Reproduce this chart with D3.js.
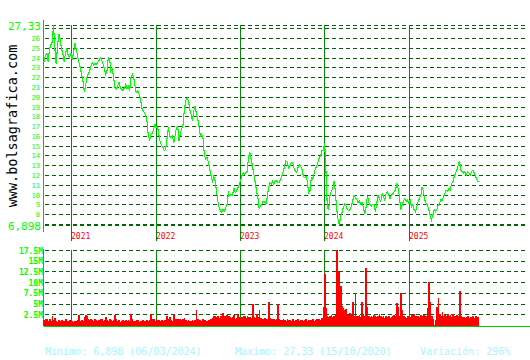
<!DOCTYPE html>
<html>
<head>
<meta charset="utf-8">
<script src="https://cdn.jsdelivr.net/npm/d3@7"></script>
<style>
body { margin: 0; background: #fff; }
svg { display: block; }
text { font-family: "DejaVu Sans Mono", monospace; }
</style>
</head>
<body>
<svg id="main"></svg>
<script>
// cotizacion (cierre), muestreo regular entre priceStart y priceEnd
var price = [
	23.6, 24.3, 24.4, 23.6, 24.9, 25.3, 25.6, 27.3, 25.0, 23.3,
	25.2, 26.4, 25.9, 24.9, 24.4, 23.6, 24.5, 24.9, 24.2, 24.0,
	24.5, 23.8, 24.5, 25.5, 24.9, 24.2, 23.5, 23.0, 22.3, 21.7,
	20.5, 21.1, 22.0, 22.3, 22.6, 23.1, 23.5, 23.2, 23.4, 23.3,
	23.5, 23.7, 24.0, 23.8, 23.4, 22.9, 22.3, 22.6, 24.0, 23.9,
	22.6, 22.8, 22.0, 20.9, 20.8, 21.1, 21.5, 20.9, 20.8, 20.6,
	20.9, 21.3, 20.8, 21.1, 20.6, 22.0, 22.3, 22.0, 21.1, 20.4,
	20.6, 20.3, 19.9, 18.9, 18.6, 18.4, 18.1, 17.5, 16.0, 15.6,
	16.2, 16.3, 16.7, 17.2, 16.9,
	16.85, 16.0, 15.3, 15.0, 14.8, 14.5, 14.6, 15.8, 16.85, 16.0,
	15.8, 16.0, 15.3, 16.0, 16.85, 17.0, 15.5, 16.3, 16.7, 17.2,
	18.7, 19.6, 19.9, 19.6, 18.7, 18.2, 17.5, 18.55, 19.05, 18.2,
	17.7, 16.85, 16.0, 16.2, 15.7, 14.0, 13.6, 13.8, 13.3, 12.6,
	11.9, 11.4, 11.9, 11.4, 10.4, 9.35, 8.7, 8.35, 8.2, 8.5,
	8.35, 8.7, 9.0, 10.2, 9.9, 10.05, 9.9, 10.7, 10.2, 10.4,
	10.7, 11.05, 11.4, 11.9, 12.25, 12.1, 12.25, 12.4, 13.8, 14.3,
	13.6, 12.9, 12.1, 11.2, 10.4, 9.7, 8.5, 8.85, 9.0, 9.35,
	9.3, 9.0, 9.7, 10.7, 11.2, 11.05, 11.4, 11.05, 11.4, 11.4,
	11.2, 11.2, 11.6, 11.9, 12.4, 12.9, 13.45, 13.3, 12.75, 12.9,
	13.3, 13.3, 12.75, 12.4, 12.25, 12.75, 13.1, 12.9, 12.6, 11.9,
	11.75, 11.9, 11.4, 10.2, 10.4, 11.75, 11.6, 12.1, 12.6, 12.9,
	13.3, 13.8, 13.95, 14.5, 14.6, 15.3, 12.4, 8.7, 8.5, 9.9,
	10.4, 10.55, 11.4, 10.4, 8.5, 7.5, 6.9, 7.85, 8.2, 8.7,
	9.0, 8.85, 8.5, 8.35, 8.5, 8.85, 9.35, 9.9, 9.7, 9.55,
	9.2, 9.35, 9.0, 9.2, 8.7, 8.0, 8.7, 9.9, 9.2, 9.0,
	8.85, 9.0,
	8.95, 8.25, 9.1, 9.95, 9.6, 9.3, 10.1, 9.8, 9.45, 10.1,
	10.3, 9.95, 9.6, 9.95, 10.1, 10.3, 10.45, 11.15, 10.65, 9.8,
	8.45, 8.95, 9.3, 9.6, 9.3, 9.45, 9.1, 9.45, 8.75, 8.95,
	8.45, 8.25, 8.75, 9.3, 9.6, 9.95, 10.8, 10.3, 9.45, 9.1,
	8.95, 8.45, 7.9, 7.4, 7.9, 8.45, 8.25, 8.45, 8.95, 9.1,
	9.45, 9.45, 9.8, 10.1, 10.45, 10.3, 10.65, 10.45, 11.15, 11.3,
	11.85, 12.2, 12.5, 13.0, 13.45, 12.5, 12.35, 12.2, 12.35, 12.0,
	12.35, 12.2, 12.0, 12.35, 12.5, 12.2, 11.85, 11.5, 11.3
];
// volumen en millones, mismo muestreo
var volume = [
	1.2, 1.5, 1.4, 1.0, 1.3, 0.9, 2.1, 1.1, 1.6, 1.0,
	0.8, 1.2, 0.9, 1.1, 1.0, 0.9, 1.3, 1.0, 0.9, 1.1,
	0.8, 0.9, 0.7, 1.0, 0.9, 1.1, 2.3, 0.9, 1.1, 1.0,
	1.8, 2.4, 2.2, 1.5, 1.2, 1.4, 1.1, 1.0, 1.5, 1.2,
	1.0, 1.2, 1.3, 1.4, 0.9, 1.1, 1.9, 1.2, 1.0, 1.5,
	1.1, 0.9, 1.2, 2.3, 1.3, 1.0, 1.1, 0.8, 1.0, 1.1,
	1.0, 1.1, 0.9, 1.2, 1.0, 2.6, 1.3, 1.0, 0.9, 1.1,
	1.1, 0.8, 1.0, 0.9, 1.1, 1.0, 0.9, 1.2, 1.0, 1.1,
	2.5, 1.3, 1.4, 1.0, 1.3, 1.2, 1.1, 1.0, 1.2, 0.9,
	1.1, 1.2, 2.1, 1.3, 1.9, 1.2, 1.0, 2.6, 1.3, 1.4,
	1.5, 1.4, 1.5, 1.2, 1.3, 1.6, 1.1, 1.0, 1.1, 0.9,
	1.0, 1.1, 0.9, 1.2, 3.6, 1.4, 1.1, 1.2, 1.0, 1.3,
	1.2, 1.0, 0.9, 1.1, 1.0, 1.3, 1.7, 2.1, 2.0, 1.8,
	2.1, 1.6, 2.2, 1.9, 2.9, 2.0, 1.7, 2.3, 2.0, 1.8,
	1.6, 1.8, 2.3, 1.5, 1.7, 2.5, 1.8, 1.6, 1.9, 2.0,
	2.0, 1.7, 2.1, 1.8, 1.9, 1.6, 5.0, 1.9, 1.7, 2.6,
	1.8, 3.5, 1.6, 1.5, 1.4, 1.7, 1.5, 1.3, 5.4, 1.6,
	1.5, 1.3, 1.4, 1.2, 1.5, 4.9, 1.3, 1.2, 1.1, 1.3,
	1.2, 1.0, 1.3, 1.1, 1.2, 0.9, 1.3, 1.0, 1.2, 1.1,
	1.3, 1.0, 1.2, 1.1, 0.9, 1.2, 1.4, 1.0, 1.1, 1.2,
	1.1, 1.3, 1.0, 1.2, 1.4, 1.3, 1.5, 1.2, 1.6, 4.3,
	12.0, 3.9, 2.2, 1.9, 2.0, 2.3, 1.8, 2.1, 2.4, 17.4,
	12.5, 12.3, 9.0, 4.5, 3.9, 3.5, 3.8, 2.6, 2.3, 2.8,
	2.5, 5.4, 2.0, 7.4, 2.2, 2.0, 2.4, 1.9, 5.4, 2.4,
	2.2, 13.2, 4.3, 2.1, 1.9, 2.2, 1.8, 2.3, 2.0, 1.9,
	2.0, 2.6, 2.1, 1.8, 2.0, 1.7, 2.2, 1.9, 2.0, 1.6,
	1.8, 2.0, 2.4, 2.1, 5.2, 4.3, 2.0, 7.5, 3.5, 2.0,
	1.9, 1.7, 2.0, 1.6, 1.9, 2.3, 2.1, 2.6, 2.0, 2.2,
	2.1, 1.8, 2.3, 2.0, 2.4, 1.9, 2.2, 3.9, 10.0, 5.4,
	2.0, 1.5, 0.0, 1.2, 4.3, 6.2, 2.5, 2.0, 3.1, 2.2,
	2.3, 2.0, 2.6, 2.1, 2.4, 1.9, 2.5, 2.2, 2.0, 2.3,
	2.1, 8.0, 2.2, 1.8, 1.9, 1.6, 1.8, 2.0, 1.7, 1.9,
	1.8, 2.0, 1.7, 2.1, 1.9, 1.8
];
var priceStart = '2020-09-06', priceEnd = '2025-10-29';
var axisStart = '2020-09-01', axisEnd = '2026-05-28';
var years = ['2021', '2022', '2023', '2024', '2025'];
var priceGrid = d3.range(7, 28);
var priceTicks = [8, 9, 10, 11, 12, 13, 14, 15, 16, 17, 18, 19, 20, 21, 22, 23, 24, 25, 26];
var volTicks = [2.5, 5, 7.5, 10, 12.5, 15, 17.5];
var volLabels = ['2.5M', '5M', '7.5M', '10M', '12.5M', '15M', '17.5M'];
var minimo = {value: 6.898, label: '6,898', date: '06/03/2024'};
var maximo = {value: 27.33, label: '27,33', date: '15/10/2020'};
var variacion = '296%';

var W = 530, H = 360;
var svg = d3.select('#main').attr('width', W).attr('height', H);

var attrs = (sel, obj) => {
	for (let k in obj) sel.attr(k, obj[k]);
	return sel;
};
var px = v => Math.round(v) + 0.5;
var parse = d3.timeParse('%Y-%m-%d');

var x = d3.scaleTime().domain([parse(axisStart), parse(axisEnd)]).range([43, 527]);
var y = d3.scaleLinear().domain([minimo.value, maximo.value]).range([225, 25]);
var yv = d3.scaleLinear().domain([0, 17.5]).range([325, 250]);

var dateAt = n => {
	var s = d3.scaleLinear().domain([0, n - 1]).range([+parse(priceStart), +parse(priceEnd)]);
	return i => new Date(s(i));
};
var pdate = dateAt(price.length);
var vdate = dateAt(volume.length);
var pdata = price.map((v, i) => ({date: pdate(i), v}));
var vdata = volume.map((v, i) => ({date: vdate(i), v}));

var gridColor = '#006400';
var yearColor = '#008c00';
var axisColor = '#00c800';

function hline(yy, extra) {
	return attrs(svg.append('line'), Object.assign({
		x1: x.range()[0] + 2, x2: x.range()[1],
		y1: px(yy), y2: px(yy),
		stroke: gridColor, 'stroke-width': 1,
		'stroke-dasharray': '4,3',
		'shape-rendering': 'crispEdges'
	}, extra || {}));
}

// rejilla del precio
priceGrid.forEach(v => hline(y(v)));
hline(y(maximo.value));
hline(y(minimo.value));

// rejilla del volumen
volTicks.forEach(v => hline(yv(v)));

// lineas de año
years.forEach(yr => {
	var xx = px(x(parse(yr + '-01-01')));
	attrs(svg.append('line'), {x1: xx, x2: xx, y1: 25, y2: 241, stroke: yearColor, 'shape-rendering': 'crispEdges'});
	attrs(svg.append('line'), {x1: xx, x2: xx, y1: yv(17.5), y2: yv(0), stroke: yearColor, 'shape-rendering': 'crispEdges'});
	attrs(svg.append('text'), {x: xx - 0.5, y: 239, fill: '#ff0000', 'font-size': '8px'}).text(yr);
});

// ejes
var x0 = px(x.range()[0]);
attrs(svg.append('line'), {x1: x0, x2: x0, y1: 20, y2: 232, stroke: axisColor, 'shape-rendering': 'crispEdges'});
attrs(svg.append('line'), {x1: x0, x2: x0, y1: 249, y2: 326, stroke: axisColor, 'shape-rendering': 'crispEdges'});
attrs(svg.append('line'), {x1: x0, x2: W, y1: px(yv(0)) + 1, y2: px(yv(0)) + 1, stroke: axisColor, 'shape-rendering': 'crispEdges'});

// volumen
var bw = (x(vdata[1].date) - x(vdata[0].date));
svg.append('g').selectAll('rect').data(vdata).join('rect')
	.attr('x', d => x(d.date) - bw / 2)
	.attr('width', bw + 0.4)
	.attr('y', d => yv(d.v))
	.attr('height', d => yv(0) - yv(d.v) + 1)
	.attr('fill', '#ff0000')
	.attr('shape-rendering', 'crispEdges');

// precio
svg.append('path').datum(pdata)
	.attr('d', d3.line().x(d => x(d.date)).y(d => y(d.v)))
	.attr('fill', 'none')
	.attr('stroke', '#00ff00')
	.attr('stroke-width', 1.1)
	.attr('shape-rendering', 'crispEdges');

// etiquetas eje precio
var lab = svg.append('g').attr('fill', '#00ff00').attr('text-anchor', 'end');
priceTicks.forEach(v => {
	attrs(lab.append('text'), {x: 40, y: y(v) + 3, 'font-size': '7px'}).text(v);
});
[maximo, minimo].forEach(m => {
	attrs(lab.append('text'), {x: 41, y: y(m.value) + 5, 'font-size': '11px'}).text(m.label);
});
volTicks.forEach((v, i) => {
	attrs(lab.append('text'), {x: 43, y: yv(v) + 3.5, 'font-size': '8px', 'font-weight': 'bold'}).text(volLabels[i]);
});

// marca vertical
attrs(svg.append('text'), {
	transform: 'translate(17,126) rotate(-90)',
	'text-anchor': 'middle', 'font-size': '13.5px', fill: '#000'
}).text('www.bolsagrafica.com');

// pie
var foot = svg.append('g').attr('fill', '#a8f4ff').attr('font-size', '10px');
attrs(foot.append('text'), {x: 45, y: 355}).text(`Minimo: ${minimo.label} (${minimo.date})`);
attrs(foot.append('text'), {x: 235, y: 355}).text(`Maximo: ${maximo.label} (${maximo.date})`);
attrs(foot.append('text'), {x: 420, y: 355}).text(`Variación: ${variacion}`);
</script>
</body>
</html>
